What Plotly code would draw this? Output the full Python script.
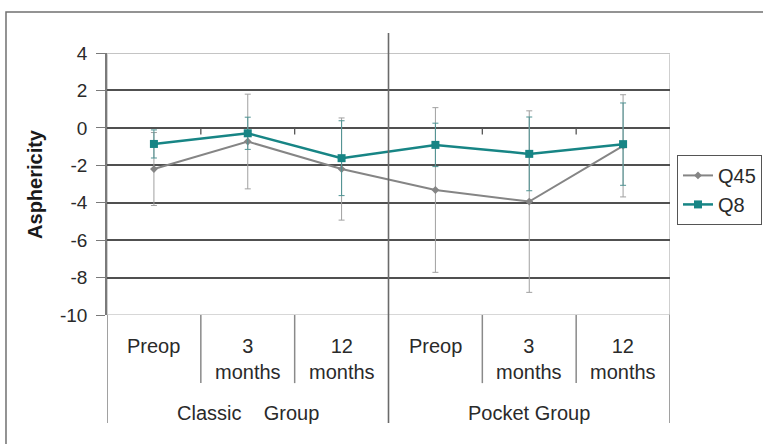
import plotly.graph_objects as go

# Mean asphericity with standard deviation, by visit and surgical group
categories = ["Preop", "3<br>months", "12<br>months", "Preop", "3<br>months", "12<br>months"]
groups = ["Classic\u00a0\u00a0\u00a0\u00a0Group", "Pocket Group"]
q45_mean = [-2.2, -0.73, -2.2, -3.32, -3.94, -0.96]
q45_sd = [1.95, 2.53, 2.73, 4.4, 4.85, 2.73]
q8_mean = [-0.86, -0.29, -1.62, -0.91, -1.39, -0.87]
q8_sd = [0.75, 0.86, 2.0, 1.16, 1.97, 2.2]
y_ticks = [4, 2, 0, -2, -4, -6, -8, -10]

FONT = "Liberation Sans, Arial, sans-serif"
TEAL = "#178585"
GREY = "#858585"
xs = list(range(len(categories)))

fig = go.Figure()
fig.add_trace(go.Scatter(
    x=xs, y=q45_mean, name="Q45", mode="lines+markers",
    line=dict(color=GREY, width=2),
    marker=dict(symbol="diamond", size=6, color=GREY),
    error_y=dict(type="data", array=q45_sd, color="#a0a0a0", thickness=1, width=3),
    cliponaxis=False,
))
fig.add_trace(go.Scatter(
    x=xs, y=q8_mean, name="Q8", mode="lines+markers",
    line=dict(color=TEAL, width=2.5),
    marker=dict(symbol="square", size=8, color=TEAL),
    error_y=dict(type="data", array=q8_sd, color="#4f9393", thickness=1, width=3),
    cliponaxis=False,
))

shapes = []
# outer chart frame
shapes.append(dict(type="rect", xref="paper", yref="paper",
                   x0=-0.1794, x1=1.25, y0=-0.6, y1=1.1565,
                   line=dict(color="#707070", width=1.5), layer="below"))
# plot area border (light)
shapes.append(dict(type="rect", xref="x", yref="y", x0=-0.5, x1=5.5, y0=-10, y1=4,
                   line=dict(color="#b0b0b0", width=1.2), layer="below"))
# top edge drawn light over the gridline at 4
shapes.append(dict(type="line", xref="x", yref="y", x0=-0.5, x1=5.5, y0=4, y1=4,
                   line=dict(color="#ffffff", width=2.5), layer="above"))
shapes.append(dict(type="line", xref="x", yref="y", x0=-0.5, x1=5.5, y0=4, y1=4,
                   line=dict(color="#b0b0b0", width=1.3), layer="above"))
# group divider through the plot
shapes.append(dict(type="line", xref="x", yref="paper", x0=2.5, x1=2.5, y0=-0.412, y1=1.076,
                   line=dict(color="#6a6a6a", width=1.6), layer="above"))
# outer group boundaries below the axis
for xb in (-0.5, 5.5):
    shapes.append(dict(type="line", xref="x", yref="paper", x0=xb, x1=xb, y0=-0.412, y1=0,
                       line=dict(color="#8a8a8a", width=1.6)))
# separators between visits
for xb in (0.5, 1.5, 3.5, 4.5):
    shapes.append(dict(type="line", xref="x", yref="paper", x0=xb, x1=xb, y0=-0.26, y1=0,
                       line=dict(color="#8a8a8a", width=1.5)))
    # category-axis tick marks at y = 0
    shapes.append(dict(type="line", xref="x", yref="y", x0=xb, x1=xb, y0=0, y1=-0.35,
                       line=dict(color="#555555", width=1.3)))

annotations = []
for i, lab in enumerate(categories):
    annotations.append(dict(x=i, y=-0.07, xref="x", yref="paper", text=lab, showarrow=False,
                            xanchor="center", yanchor="top",
                            font=dict(family=FONT, size=20, color="#2a2a2a")))
for gx, g in zip((1, 4), groups):
    annotations.append(dict(x=gx, y=-0.375, xref="x", yref="paper", text=g, showarrow=False,
                            xanchor="center", yanchor="middle",
                            font=dict(family=FONT, size=20, color="#2a2a2a")))
annotations.append(dict(x=-0.128, y=0.50, xref="paper", yref="paper", text="<b>Asphericity</b>",
                        textangle=-90, showarrow=False, xanchor="center", yanchor="middle",
                        font=dict(family=FONT, size=20, color="#1a1a1a")))

fig.update_layout(
    width=763, height=444,
    margin=dict(l=107, r=93, t=53, b=129, autoexpand=False),
    paper_bgcolor="white", plot_bgcolor="white",
    font=dict(family=FONT, size=19, color="#2a2a2a"),
    showlegend=True,
    legend=dict(x=1.0124, y=0.611, xanchor="left", yanchor="top",
                bordercolor="#555555", borderwidth=1, bgcolor="white",
                font=dict(family=FONT, size=20, color="#2a2a2a"),
                itemwidth=30, tracegroupgap=0),
    shapes=shapes, annotations=annotations,
    xaxis=dict(range=[-0.5, 5.5], showticklabels=False, showgrid=False, zeroline=False,
               ticks="", showline=False, fixedrange=True),
    yaxis=dict(range=[-10, 4], tickvals=y_ticks, ticktext=[str(v) for v in y_ticks],
               showgrid=True, gridcolor="#505050", gridwidth=1.5, zeroline=False,
               showline=True, linecolor="#7a7a7a", linewidth=1.5,
               ticks="outside", ticklen=9, tickcolor="#7a7a7a", tickwidth=1.3,
               ticklabelstandoff=5,
               tickfont=dict(family=FONT, size=19, color="#2a2a2a"), fixedrange=True),
)

fig.write_html("out.html")
